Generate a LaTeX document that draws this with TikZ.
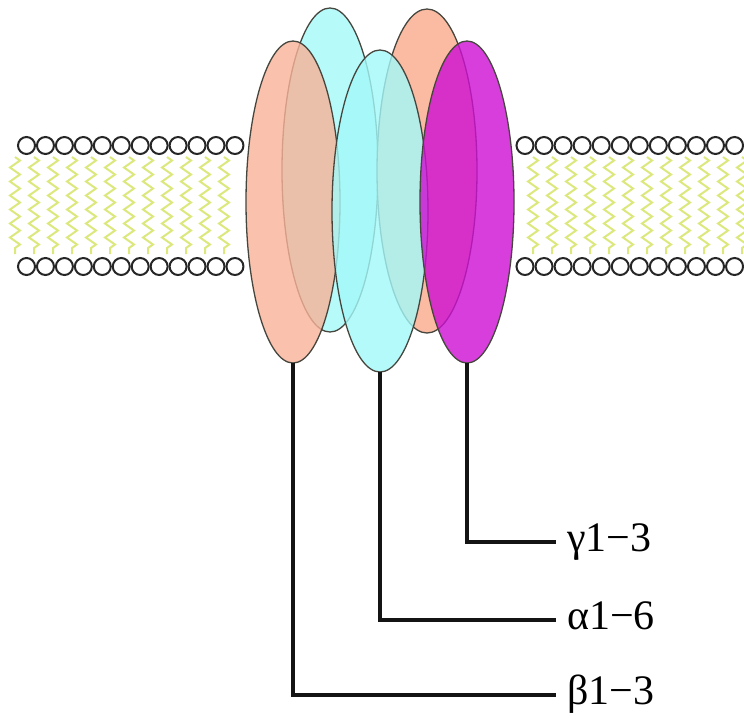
\documentclass[tikz,border=0pt]{standalone}
\usepackage{fontspec}
\setmainfont{Liberation Serif}
\usetikzlibrary{shapes.geometric,decorations.pathmorphing}

\definecolor{salmon}{RGB}{249,178,152}
\definecolor{salmonback}{RGB}{250,187,162}
\definecolor{aqua}{RGB}{163,249,249}
\definecolor{aquaback}{RGB}{183,250,250}
\definecolor{violet}{RGB}{205,14,211}
\definecolor{outline}{RGB}{70,70,62}
\definecolor{lipidtail}{RGB}{220,232,125}

\tikzset{
  subunit/.style={ellipse, inner sep=0pt, outer sep=0pt, draw=outline,
                  line width=1.3pt},
  headgroup/.style={circle, draw=black!85, fill=white, line width=2pt,
                    inner sep=0pt, minimum size=17pt},
  tail/.style={draw=lipidtail, line width=2pt, decorate,
               decoration={zigzag, segment length=14pt, amplitude=5pt}},
  lead/.style={draw=black!92, line width=3.8pt},
  tag/.style={font=\fontsize{42}{48}\selectfont, anchor=west,
              inner xsep=11pt, inner ysep=0pt, text height=28pt, text depth=9pt}
}

\begin{document}
\begin{tikzpicture}[x=1pt, y=-1pt]
  \useasboundingbox (0,0) rectangle (744,721);

  % lipid tails of the bilayer
  \foreach \i in {0,...,11} {
    \draw[tail] (15+19*\i,157) -- (15+19*\i,254);
    \draw[tail] (533+19*\i,157) -- (533+19*\i,254);
  }

  % head groups, outer and inner leaflet
  \foreach \i in {0,...,11} {
    \node[headgroup] (lt\i) at (26.5+18.95*\i,145.5) {};
    \node[headgroup] (lb\i) at (26.5+18.95*\i,266.5) {};
    \node[headgroup] (rt\i) at (525+19.05*\i,145.5) {};
    \node[headgroup] (rb\i) at (525+19.05*\i,266.5) {};
  }

  % rear subunits
  \node[subunit, fill=aquaback, minimum width=96pt, minimum height=324pt]
    (alphaback) at (330,170) {};
  \node[subunit, fill=salmonback, minimum width=100pt, minimum height=324pt]
    (betaback) at (427,171) {};

  % front subunits
  \node[subunit, fill=salmon, fill opacity=0.8, minimum width=94pt, minimum height=322pt]
    (beta) at (293,202) {};
  \node[subunit, fill=aqua, fill opacity=0.8, minimum width=96pt, minimum height=322pt]
    (alpha) at (380,211) {};
  \node[subunit, fill=violet, fill opacity=0.8, minimum width=94pt, minimum height=322pt]
    (gamma) at (467,202) {};

  % labels
  \node[tag] (gammalbl) at (556,542) {γ1−3};
  \node[tag] (alphalbl) at (556,620) {α1−6};
  \node[tag] (betalbl)  at (556,695) {β1−3};

  % leader lines
  \draw[lead] (gamma.south) |- (gammalbl.west);
  \draw[lead] (alpha.south) |- (alphalbl.west);
  \draw[lead] (beta.south)  |- (betalbl.west);
\end{tikzpicture}
\end{document}
